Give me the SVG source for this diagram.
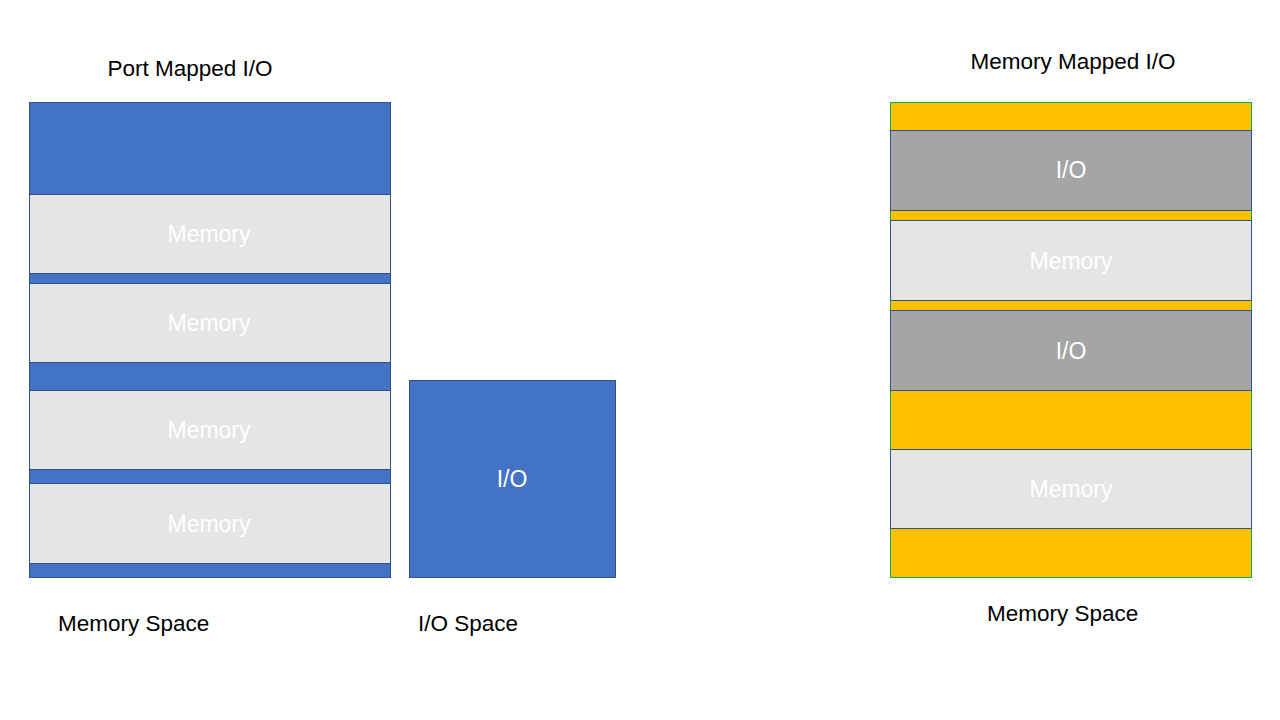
<svg xmlns="http://www.w3.org/2000/svg" width="1280" height="720" viewBox="0 0 1280 720">
<style>
.blue{fill:#4472C4;stroke:#2F528F;stroke-width:1}
.mem{fill:#E5E5E5;stroke:#2F528F;stroke-width:1}
.io{fill:#A5A5A5;stroke:#2F528F;stroke-width:1}
.org{fill:#FFC000;stroke:#2F528F;stroke-width:1}
.lbl{font-family:"Liberation Sans",Arial,sans-serif;font-size:22.5px;fill:#000}
.in{font-family:"Liberation Sans",Arial,sans-serif;font-size:23px;fill:#fff;text-anchor:middle}
</style>
<rect width="1280" height="720" fill="#fff"/>
<text class="lbl" x="190" y="76" text-anchor="middle">Port Mapped I/O</text>
<text class="lbl" x="1073" y="69" text-anchor="middle">Memory Mapped I/O</text>
<g id="port-memory-space">
<rect class="blue" x="29.5" y="102.5" width="361" height="475"/>
<rect class="mem" x="29.5" y="194.5" width="361" height="79"/>
<rect class="mem" x="29.5" y="283.5" width="361" height="79"/>
<rect class="mem" x="29.5" y="390.5" width="361" height="79"/>
<rect class="mem" x="29.5" y="483.5" width="361" height="80"/>
<text class="in" x="209" y="242">Memory</text>
<text class="in" x="209" y="331">Memory</text>
<text class="in" x="209" y="438">Memory</text>
<text class="in" x="209" y="532">Memory</text>
</g>
<g id="io-space">
<rect class="blue" x="409.5" y="380.5" width="206" height="197"/>
<text class="in" x="512" y="487">I/O</text>
</g>
<g id="mmio-memory-space">
<rect x="890.5" y="102.5" width="361" height="475" fill="#FFC000" stroke="#00B050" stroke-width="1"/>
<rect class="io" x="890.5" y="130.5" width="361" height="80"/>
<rect class="mem" x="890.5" y="220.5" width="361" height="80"/>
<rect class="io" x="890.5" y="310.5" width="361" height="80"/>
<rect class="mem" x="890.5" y="449.5" width="361" height="79"/>
<text class="in" x="1071" y="178">I/O</text>
<text class="in" x="1071" y="269">Memory</text>
<text class="in" x="1071" y="359">I/O</text>
<text class="in" x="1071" y="497">Memory</text>
</g>
<text class="lbl" x="58" y="631">Memory Space</text>
<text class="lbl" x="418" y="631">I/O Space</text>
<text class="lbl" x="987" y="621">Memory Space</text>
</svg>
